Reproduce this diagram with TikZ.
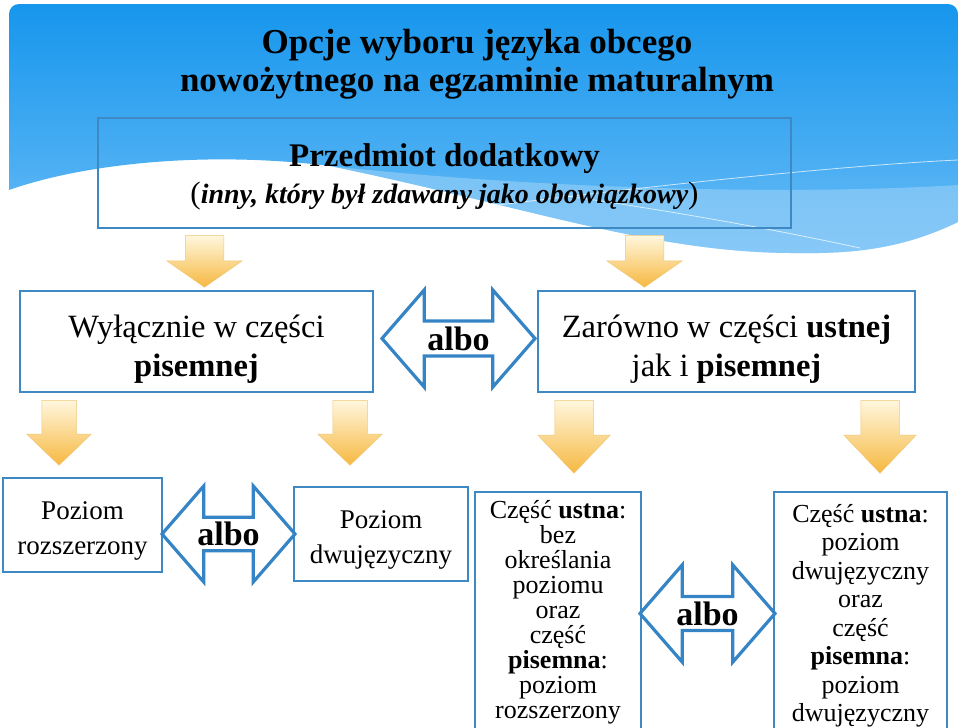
\documentclass[tikz,border=0pt]{standalone}
\usepackage{fontspec}
\setmainfont{Liberation Serif}
\usetikzlibrary{shapes.arrows}

\definecolor{skytop}{RGB}{22,150,237}
\definecolor{skybot}{RGB}{105,188,246}
\definecolor{skylight}{RGB}{160,212,249}
\definecolor{boxblue}{RGB}{62,136,196}
\definecolor{arrowblue}{RGB}{52,132,198}
\definecolor{ambertop}{RGB}{255,247,222}
\definecolor{amberbot}{RGB}{246,184,64}
\definecolor{amberedge}{RGB}{238,200,120}

\newcommand{\fs}[2]{\fontsize{#1}{#2}\selectfont}

\begin{document}
\begin{tikzpicture}[x=1pt,y=-1pt]
\tikzset{box/.style = {draw=boxblue, line width=1.6pt, inner sep=0pt}}
\tikzset{boxtext/.style = {align=center, inner sep=0pt}}
\tikzset{altarrow/.style = {double arrow, draw=arrowblue, line width=3.2pt, double arrow tip angle=98, double arrow head extend=24, inner sep=0pt, font=\fs{34}{34}\bfseries}}
\tikzset{godown/.style = {single arrow, shape border rotate=270, anchor=tail, top color=ambertop, bottom color=amberbot, draw=amberedge, line width=0.5pt}}

\useasboundingbox (0,0) rectangle (959,728);

% blue header
\shade[top color=skytop, bottom color=skybot] (9,190) [rounded corners=10] -- (9,4) -- (958,4) [sharp corners] -- (958,222)
  .. controls (900,250) and (850,254) .. (790,253)
  .. controls (650,252) and (520,205) .. (330,166)
  .. controls (200,150) and (80,165) .. (9,190) -- cycle;
\fill[skylight, opacity=0.55] (330,166) .. controls (550,190) and (800,195) .. (958,185) -- (958,222)
  .. controls (900,250) and (850,254) .. (790,253)
  .. controls (650,252) and (520,205) .. (330,166) -- cycle;
\draw[white, opacity=0.7, line width=0.8pt] (420,215) .. controls (650,185) and (850,165) .. (958,160);
\draw[white, opacity=0.7, line width=0.8pt] (560,195) .. controls (700,215) and (800,235) .. (860,248);

\node[font=\fs{35}{38}\bfseries, align=center] (title) at (477,64) {Opcje wyboru języka obcego\\nowożytnego na egzaminie maturalnym};

\node[box, minimum width=693, minimum height=110] (extra) at (444.5,173) {};
\node[boxtext, font=\fs{33}{37.5}] (extratext) at ([yshift=-4pt]extra.center)
  {\textbf{Przedmiot dodatkowy}\\{\fs{31}{37.5}(}{\fs{28}{37.5}\bfseries\itshape inny, który był zdawany jako obowiązkowy}{\fs{31}{37.5})}};

\node[box, minimum width=353, minimum height=101] (written) at (196.5,341.5) {};
\node[box, minimum width=377, minimum height=101] (both) at (726.5,341.5) {};
\node[boxtext, font=\fs{32.5}{39}] (writtentext) at ([yshift=-8pt]written.center) {Wyłącznie w części\\\textbf{pisemnej}};
\node[boxtext, font=\fs{32.5}{39}] (bothtext) at ([yshift=-8pt]both.center) {Zarówno w części \textbf{ustnej}\\jak i \textbf{pisemnej}};
\node[altarrow, minimum height=153, minimum width=97] (or1) at (458.5,338.5) {albo};

\node[godown, inner sep=19, minimum height=48, minimum width=75, single arrow head extend=18.5, single arrow tip angle=110] (toW) at (204.5,235) {};
\node[godown, inner sep=19, minimum height=48, minimum width=75, single arrow head extend=18.5, single arrow tip angle=110] (toB) at (644.5,235) {};

\node[godown, inner sep=17, minimum height=65, minimum width=64, single arrow head extend=15, single arrow tip angle=92] (toR) at (59,400) {};
\node[godown, inner sep=17, minimum height=65, minimum width=64, single arrow head extend=15, single arrow tip angle=92] (toD) at (350,400) {};
\node[godown, inner sep=19, minimum height=73, minimum width=72, single arrow head extend=17, single arrow tip angle=87] (toOA) at (574,400) {};
\node[godown, inner sep=19, minimum height=73, minimum width=72, single arrow head extend=17, single arrow tip angle=87] (toOB) at (880,400) {};

\node[box, minimum width=159, minimum height=94] (ext) at (82.5,525) {};
\node[box, minimum width=174, minimum height=94] (bil) at (381,534) {};
\node[boxtext, font=\fs{27}{35}] (exttext) at ([yshift=-6pt]ext.center) {Poziom\\rozszerzony};
\node[boxtext, font=\fs{27}{35}] (biltext) at ([yshift=-6pt]bil.center) {Poziom\\dwujęzyczny};
\node[altarrow, minimum height=133, minimum width=96, double arrow head extend=25.5] (or2) at (228.5,534) {albo};

\node[box, minimum width=166, minimum height=260] (oralA) at (558,622) {};
\node[box, minimum width=173, minimum height=260] (oralB) at (860.5,622) {};
\node[boxtext, font=\fs{26}{25}, anchor=north] (oralAtext) at ([yshift=-9pt]oralA.north)
  {Część \textbf{ustna}:\\bez\\określania\\poziomu\\oraz\\część\\\textbf{pisemna}:\\poziom\\rozszerzony};
\node[boxtext, font=\fs{26}{28.5}, anchor=north] (oralBtext) at ([yshift=-13pt]oralB.north)
  {Część \textbf{ustna}:\\poziom\\dwujęzyczny\\oraz\\część\\\textbf{pisemna}:\\poziom\\dwujęzyczny};
\node[altarrow, minimum height=135, minimum width=97, double arrow head extend=25] (or3) at (707.5,613.5) {albo};
\end{tikzpicture}
\end{document}
